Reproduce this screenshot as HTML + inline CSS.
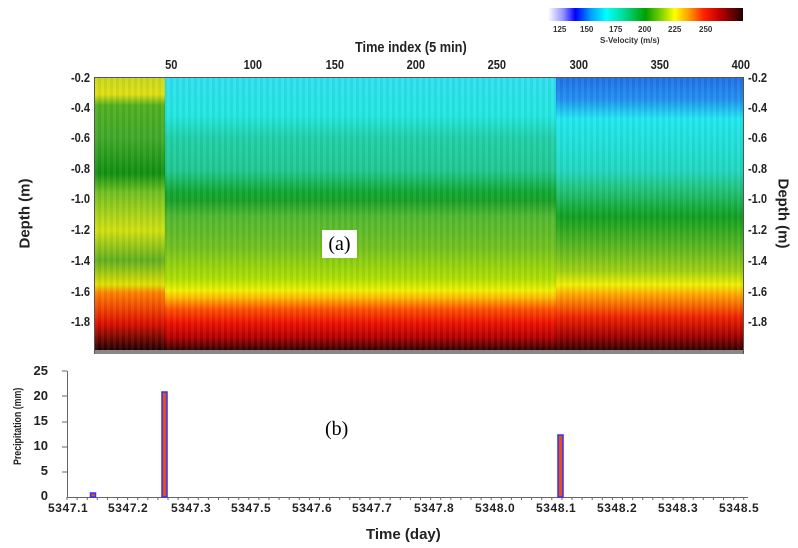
<!DOCTYPE html>
<html><head><meta charset="utf-8"><style>
body{margin:0;width:798px;height:548px;background:#fff;position:relative;overflow:hidden;font-family:"Liberation Sans",sans-serif;}
.a{position:absolute;white-space:nowrap;}
.tl{font-size:13px;font-weight:bold;color:#222;transform:scaleX(0.85);}
.dl{font-size:13px;font-weight:bold;color:#222;text-align:right;width:40px;transform:scaleX(0.85);transform-origin:right;}
.dr{font-size:13px;font-weight:bold;color:#222;transform:scaleX(0.85);transform-origin:left;}
.bl{font-size:12px;font-weight:bold;color:#222;letter-spacing:0.6px;}
</style></head><body>
<div class="a" style="left:548px;top:8px;width:195px;height:13px;background:linear-gradient(to right,#fff 0%,#9090ff 8%,#0000ff 14%,#00a0ff 22%,#00ffff 30%,#00e0a0 38%,#00a000 50%,#80d000 58%,#ffff00 65%,#ffa000 72%,#ff2000 80%,#c00000 88%,#200000 100%);"></div>
<div class="a" style="left:548px;top:25px;width:195px;font-size:8px;font-weight:bold;color:#333;">
<span class="a" style="left:5px">125</span><span class="a" style="left:32px">150</span><span class="a" style="left:61px">175</span><span class="a" style="left:90px">200</span><span class="a" style="left:120px">225</span><span class="a" style="left:151px">250</span></div>
<div class="a" style="left:600px;top:36px;font-size:8px;font-weight:bold;color:#333;">S-Velocity (m/s)</div>
<div class="a" style="left:355px;top:39px;font-size:15px;font-weight:bold;color:#222;transform:scaleX(0.85);transform-origin:left;">Time index (5 min)</div>
<div class="a tl" style="left:164px;top:57px">50</div>
<div class="a tl" style="left:242px;top:57px">100</div>
<div class="a tl" style="left:324px;top:57px">150</div>
<div class="a tl" style="left:405px;top:57px">200</div>
<div class="a tl" style="left:486px;top:57px">250</div>
<div class="a tl" style="left:568px;top:57px">300</div>
<div class="a tl" style="left:649px;top:57px">350</div>
<div class="a tl" style="left:730px;top:57px">400</div>
<div class="a" style="left:95px;top:78px;width:70px;height:272px;background:linear-gradient(#c8d820 0%,#e0e010 6%,#50b020 10%,#40a828 22%,#109010 35%,#70c020 42%,#d0e010 56%,#60b020 67%,#e0e000 76%,#ff8000 79%,#e01000 90%,#200000 100%);"></div>
<div class="a" style="left:165px;top:78px;width:391px;height:272px;background:linear-gradient(#30e0f0 0%,#20e8e0 14%,#20d0a8 22%,#20c890 34%,#10a830 42%,#18a028 45%,#50b830 51%,#70c020 62%,#b0e000 74%,#f0f000 78%,#ffc000 80.5%,#ff5000 85%,#ee1000 90%,#b00000 95.5%,#300000 100%);"></div>
<div class="a" style="left:556px;top:78px;width:187px;height:272px;background:linear-gradient(#2070e8 0%,#2090f0 8%,#20e8f0 15%,#20d8c0 34%,#20c070 42%,#10a020 51%,#60b820 63%,#a0d010 71%,#f0f000 76%,#ffa000 80%,#f02000 88%,#a00000 95%,#300000 100%);"></div>
<div class="a" style="left:95px;top:78px;width:648px;height:272px;background:repeating-linear-gradient(to right,rgba(255,255,255,0.05) 0 3px,rgba(0,0,0,0.04) 3px 6px);"></div>
<div class="a" style="left:95px;top:350px;width:648px;height:4px;background:#888;"></div>
<div class="a" style="left:94px;top:77px;width:1px;height:277px;background:#555;"></div>
<div class="a" style="left:743px;top:77px;width:1px;height:277px;background:#555;"></div>
<div class="a" style="left:94px;top:77px;width:650px;height:1px;background:#555;"></div>
<div class="a dl" style="left:50px;top:70px">-0.2</div>
<div class="a dl" style="left:50px;top:100px">-0.4</div>
<div class="a dl" style="left:50px;top:130px">-0.6</div>
<div class="a dl" style="left:50px;top:161px">-0.8</div>
<div class="a dl" style="left:50px;top:191px">-1.0</div>
<div class="a dl" style="left:50px;top:222px">-1.2</div>
<div class="a dl" style="left:50px;top:253px">-1.4</div>
<div class="a dl" style="left:50px;top:284px">-1.6</div>
<div class="a dl" style="left:50px;top:314px">-1.8</div>
<div class="a dr" style="left:748px;top:70px">-0.2</div>
<div class="a dr" style="left:748px;top:100px">-0.4</div>
<div class="a dr" style="left:748px;top:130px">-0.6</div>
<div class="a dr" style="left:748px;top:161px">-0.8</div>
<div class="a dr" style="left:748px;top:191px">-1.0</div>
<div class="a dr" style="left:748px;top:222px">-1.2</div>
<div class="a dr" style="left:748px;top:253px">-1.4</div>
<div class="a dr" style="left:748px;top:284px">-1.6</div>
<div class="a dr" style="left:748px;top:314px">-1.8</div>
<div class="a" style="top:205px;font-size:15px;font-weight:bold;color:#222;transform:rotate(-90deg);width:70px;text-align:center;left:-10px;">Depth (m)</div>
<div class="a" style="left:748px;top:205px;font-size:15px;font-weight:bold;color:#222;transform:rotate(90deg);width:70px;text-align:center;">Depth (m)</div>
<div class="a" style="left:322px;top:230px;width:35px;height:28px;background:#fff;font-family:'Liberation Serif',serif;font-size:20px;text-align:center;line-height:28px;">(a)</div>
<div class="a" style="left:67px;top:371px;width:1px;height:127px;background:#666;"></div>
<div class="a" style="left:67px;top:497px;width:681px;height:1px;background:#666;"></div>
<svg class="a" style="left:0;top:360px" width="798" height="150">
<g stroke="#666" stroke-width="1">
<line x1="62" y1="11" x2="67" y2="11"/><line x1="62" y1="36" x2="67" y2="36"/><line x1="62" y1="62" x2="67" y2="62"/><line x1="62" y1="87" x2="67" y2="87"/><line x1="62" y1="112" x2="67" y2="112"/>
</g>
<g id="tk" stroke="#666"></g>
<rect x="90.5" y="133" width="5" height="4" fill="#e05020" stroke="#3030ff" stroke-width="1.5"/>
<rect x="162" y="32" width="5" height="105" fill="#e05020" stroke="#3030ff" stroke-width="1.5"/>
<rect x="558" y="75" width="5" height="62" fill="#e05020" stroke="#3030ff" stroke-width="1.5"/>
</svg>
<script>
var g=document.getElementById('tk'),s='';
for(var x=67;x<=748;x+=10.1){s+='<line x1="'+x.toFixed(1)+'" y1="137" x2="'+x.toFixed(1)+'" y2="140"/>';}
g.innerHTML=s;
</script>
<div class="a" style="left:26px;top:364px;font-size:13px;font-weight:bold;color:#222;width:22px;text-align:right;line-height:14px;">
<div>25</div><div style="margin-top:11px">20</div><div style="margin-top:11px">15</div><div style="margin-top:11px">10</div><div style="margin-top:11px">5</div><div style="margin-top:11px">0</div></div>
<div class="a" style="left:-22px;top:427px;width:80px;text-align:center;font-size:11px;font-weight:bold;color:#222;transform:rotate(-90deg) scaleX(0.8);">Precipitation (mm)</div>
<div class="a" style="left:325px;top:418px;font-family:'Liberation Serif',serif;font-size:20px;">(b)</div>
<div class="a bl" style="left:48px;top:501px">5347.1</div>
<div class="a bl" style="left:108px;top:501px">5347.2</div>
<div class="a bl" style="left:171px;top:501px">5347.3</div>
<div class="a bl" style="left:231px;top:501px">5347.5</div>
<div class="a bl" style="left:292px;top:501px">5347.6</div>
<div class="a bl" style="left:352px;top:501px">5347.7</div>
<div class="a bl" style="left:414px;top:501px">5347.8</div>
<div class="a bl" style="left:475px;top:501px">5348.0</div>
<div class="a bl" style="left:536px;top:501px">5348.1</div>
<div class="a bl" style="left:597px;top:501px">5348.2</div>
<div class="a bl" style="left:658px;top:501px">5348.3</div>
<div class="a bl" style="left:719px;top:501px">5348.5</div>
<div class="a" style="left:366px;top:526px;font-size:15px;font-weight:bold;color:#222;">Time (day)</div>
</body></html>
